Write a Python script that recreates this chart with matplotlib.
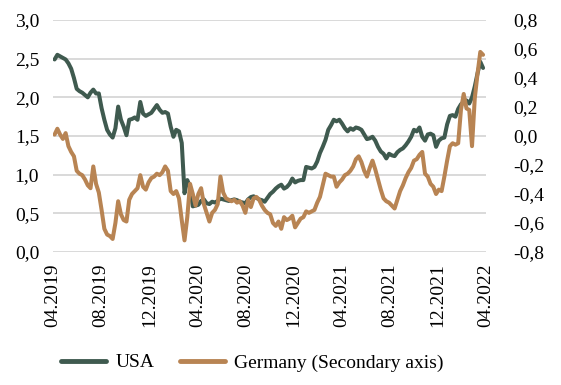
import numpy as np
import pandas as pd
import matplotlib
matplotlib.use("Agg")
import matplotlib.pyplot as plt
import matplotlib.dates as mdates
from matplotlib.ticker import FuncFormatter, MultipleLocator

# ======================== DATA ============================
dates = pd.date_range("2019-04-05", periods=156, freq="7D")

usa = [
    2.49, 2.55, 2.53, 2.51, 2.49, 2.44, 2.37, 2.25, 2.11, 2.08,
    2.06, 2.03, 2.00, 2.06, 2.10, 2.05, 2.05, 1.86, 1.71, 1.58,
    1.52, 1.48, 1.60, 1.88, 1.71, 1.62, 1.51, 1.71, 1.72, 1.74,
    1.71, 1.94, 1.79, 1.76, 1.78, 1.80, 1.85, 1.90, 1.84, 1.80,
    1.81, 1.79, 1.62, 1.49, 1.58, 1.56, 1.41, 0.76, 0.93, 0.84,
    0.59, 0.60, 0.61, 0.66, 0.68, 0.63, 0.62, 0.65, 0.64, 0.66,
    0.69, 0.68, 0.67, 0.66, 0.67, 0.68, 0.67, 0.65, 0.64, 0.63,
    0.68, 0.71, 0.72, 0.70, 0.68, 0.67, 0.65, 0.70, 0.75, 0.78,
    0.82, 0.85, 0.87, 0.82, 0.84, 0.88, 0.95, 0.90, 0.92, 0.93,
    0.93, 1.10, 1.09, 1.08, 1.10, 1.17, 1.28, 1.36, 1.45, 1.58,
    1.64, 1.71, 1.69, 1.71, 1.66, 1.60, 1.56, 1.60, 1.58, 1.61,
    1.60, 1.58, 1.52, 1.46, 1.47, 1.49, 1.44, 1.36, 1.30, 1.27,
    1.21, 1.27, 1.25, 1.24, 1.29, 1.32, 1.34, 1.38, 1.43, 1.49,
    1.58, 1.56, 1.61, 1.49, 1.44, 1.52, 1.53, 1.51, 1.36, 1.44,
    1.47, 1.48, 1.65, 1.76, 1.77, 1.75, 1.85, 1.91, 1.94, 1.96,
    1.92, 2.00, 2.14, 2.31, 2.46, 2.38,
]

germany = [
    0.01, 0.05, 0.01, -0.02, 0.02, -0.07, -0.11, -0.14, -0.24, -0.26,
    -0.27, -0.30, -0.34, -0.36, -0.21, -0.33, -0.39, -0.51, -0.64, -0.68,
    -0.69, -0.71, -0.60, -0.45, -0.54, -0.58, -0.59, -0.44, -0.40, -0.38,
    -0.36, -0.27, -0.35, -0.37, -0.32, -0.29, -0.28, -0.26, -0.27, -0.25,
    -0.21, -0.24, -0.38, -0.40, -0.38, -0.43, -0.58, -0.72, -0.56, -0.33,
    -0.40, -0.48, -0.40, -0.36, -0.47, -0.53, -0.59, -0.53, -0.51, -0.47,
    -0.28, -0.39, -0.43, -0.44, -0.45, -0.44, -0.46, -0.45, -0.48, -0.53,
    -0.44, -0.49, -0.43, -0.42, -0.44, -0.48, -0.51, -0.53, -0.54, -0.60,
    -0.62, -0.59, -0.64, -0.56, -0.58, -0.57, -0.55, -0.63, -0.60, -0.57,
    -0.56, -0.52, -0.53, -0.52, -0.51, -0.46, -0.42, -0.34, -0.26, -0.27,
    -0.28, -0.28, -0.35, -0.32, -0.30, -0.27, -0.26, -0.24, -0.21, -0.16,
    -0.14, -0.18, -0.24, -0.28, -0.22, -0.17, -0.23, -0.30, -0.37, -0.43,
    -0.45, -0.46, -0.48, -0.50, -0.44, -0.38, -0.34, -0.29, -0.25, -0.22,
    -0.17, -0.16, -0.13, -0.11, -0.26, -0.28, -0.33, -0.35, -0.40, -0.37,
    -0.38, -0.28, -0.17, -0.07, -0.05, -0.06, -0.05, 0.18, 0.29, 0.19,
    0.18, -0.07, 0.26, 0.43, 0.58, 0.56,
]

# ======================== STYLE ============================
plt.rcParams['font.family'] = ['Liberation Serif', 'DejaVu Serif']
plt.rcParams['font.size'] = 14

USA_COLOR = '#3f5a4f'
GER_COLOR = '#b88453'
GRID_COLOR = '#d9d9d9'

fig = plt.figure(figsize=(5.61, 3.85), dpi=100)
ax = fig.add_axes([0.0945, 0.3455, 0.7715, 0.6025])
ax2 = ax.twinx()

ax.set_ylim(0, 3.0)
ax2.set_ylim(-0.8, 0.8)
ax.yaxis.set_major_locator(MultipleLocator(0.5))
ax2.yaxis.set_major_locator(MultipleLocator(0.2))
comma = FuncFormatter(lambda v, p: f"{v:.1f}".replace('.', ','))
ax.yaxis.set_major_formatter(comma)
ax2.yaxis.set_major_formatter(comma)

ax.grid(axis='y', color=GRID_COLOR, linewidth=1.4)
ax.set_axisbelow(True)

l1, = ax.plot(dates, usa, color=USA_COLOR, lw=2.9, solid_capstyle='round', label='USA')
l2, = ax2.plot(dates, germany, color=GER_COLOR, lw=2.9, solid_capstyle='round',
               label='Germany (Secondary axis)')

ax.set_xlim(pd.Timestamp("2019-04-01"), pd.Timestamp("2022-04-01"))
ax.xaxis.set_major_locator(mdates.MonthLocator(bymonth=[4, 8, 12]))
ax.xaxis.set_major_formatter(mdates.DateFormatter("%m.%Y"))
for lbl in ax.get_xticklabels():
    lbl.set_rotation(90)

for a in (ax, ax2):
    for s in a.spines.values():
        s.set_visible(False)
ax.tick_params(axis='x', length=0, pad=8)
ax.tick_params(axis='y', length=0, pad=10)
ax2.tick_params(axis='y', length=0, pad=20)

fig.legend([l1, l2], [l1.get_label(), l2.get_label()], loc='center',
           bbox_to_anchor=(0.45, 0.058), ncol=2, frameon=False,
           handlelength=2.3, handletextpad=0.5, columnspacing=1.3)
for h in fig.legends[0].get_lines():
    h.set_linewidth(3.5)

fig.savefig("out.png", dpi=100)
